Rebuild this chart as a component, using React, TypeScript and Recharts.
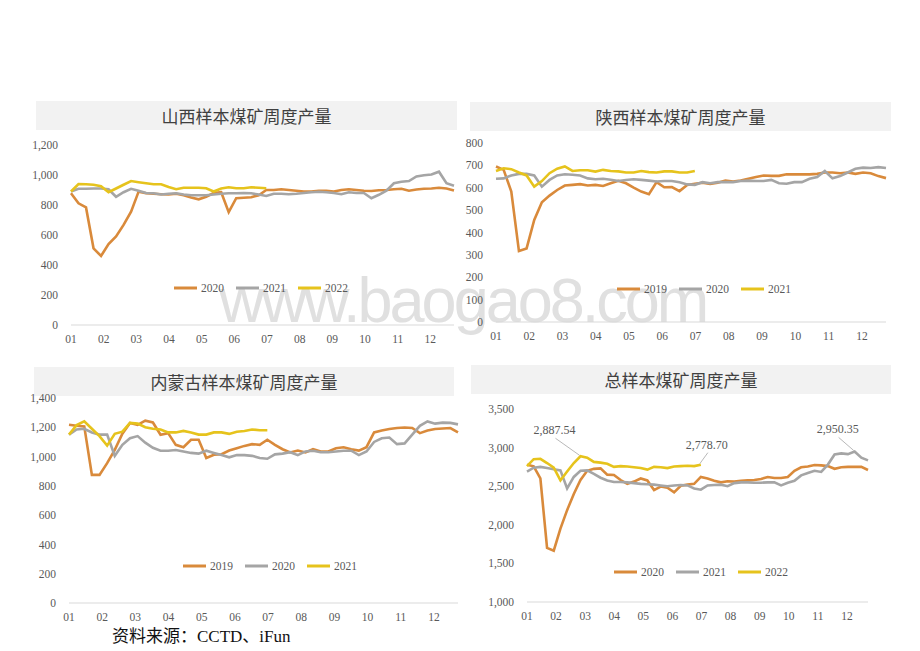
import { LineChart, Line, XAxis, YAxis, Legend } from 'recharts'

const SERIF = '"Liberation Serif", Tinos, "Times New Roman", serif'
const CJK = '"Noto Sans CJK SC", sans-serif'

const ORANGE = '#D98A3B'
const GRAY = '#A5A5A5'
const YELLOW = '#E6C31C'

// month tick labels, one every ~4.35 weeks
const MONTHS = ['01', '02', '03', '04', '05', '06', '07', '08', '09', '10', '11', '12']
const WEEKS_PER_MONTH = 4.35

// 山西
const SX_2020 = [878, 811, 784, 511, 460, 540, 590, 667, 756, 889, 878, 875, 872, 870, 875, 865, 850, 838, 855, 880, 885, 752, 845, 848, 852, 865, 900, 900, 905, 900, 895, 890, 890, 895, 895, 890, 900, 905, 900, 895, 893, 898, 900, 905, 908, 895, 903, 908, 910, 915, 910, 897]
const SX_2021 = [890, 908, 908, 910, 910, 905, 855, 885, 908, 895, 880, 878, 870, 875, 878, 870, 865, 865, 865, 870, 875, 878, 878, 880, 878, 870, 860, 875, 875, 872, 875, 880, 885, 888, 885, 880, 872, 885, 880, 880, 845, 868, 895, 945, 955, 960, 990, 998, 1003, 1022, 945, 928]
const SX_2022 = [890, 940, 938, 935, 925, 885, 910, 935, 960, 952, 945, 938, 938, 920, 905, 915, 915, 915, 912, 890, 910, 918, 912, 912, 918, 915, 912]

// 陕西
const SN_2019 = [695, 680, 583, 317, 329, 456, 535, 565, 590, 610, 613, 616, 610, 613, 608, 620, 631, 620, 601, 583, 571, 625, 602, 603, 585, 612, 618, 622, 617, 622, 632, 628, 632, 640, 648, 655, 653, 653, 660, 660, 660, 660, 662, 668, 668, 665, 668, 662, 668, 665, 652, 643]
const SN_2020 = [640, 642, 655, 662, 662, 655, 605, 635, 655, 660, 658, 655, 642, 638, 640, 636, 630, 635, 638, 635, 632, 628, 630, 630, 625, 615, 613, 625, 620, 625, 625, 625, 630, 632, 630, 630, 635, 620, 618, 625, 625, 640, 648, 675, 642, 652, 668, 685, 690, 688, 692, 688]
const SN_2021 = [675, 687, 683, 668, 655, 605, 630, 665, 685, 695, 675, 678, 678, 672, 680, 675, 673, 668, 668, 675, 670, 668, 673, 673, 668, 668, 675]

// 内蒙古
const NM_2019 = [1217, 1210, 1206, 875, 875, 955, 1046, 1156, 1229, 1217, 1245, 1233, 1149, 1160, 1080, 1064, 1115, 1115, 990, 1012, 1016, 1041, 1057, 1073, 1085, 1080, 1115, 1080, 1050, 1028, 1041, 1028, 1050, 1035, 1035, 1057, 1064, 1050, 1041, 1064, 1165, 1178, 1188, 1195, 1199, 1195, 1160, 1178, 1188, 1192, 1195, 1165]
const NM_2020 = [1150, 1185, 1190, 1165, 1150, 1150, 1005, 1080, 1125, 1140, 1095, 1060, 1040, 1040, 1045, 1035, 1025, 1020, 1040, 1025, 1010, 995, 1010, 1010, 1005, 990, 985, 1015, 1020, 1030, 1010, 1035, 1040, 1030, 1030, 1035, 1040, 1040, 1010, 1035, 1100, 1125, 1130, 1085, 1090, 1150, 1210, 1240, 1225, 1232, 1230, 1220]
const NM_2021 = [1150, 1215, 1240, 1190, 1140, 1075, 1155, 1170, 1230, 1225, 1200, 1190, 1185, 1165, 1165, 1175, 1165, 1150, 1150, 1165, 1165, 1155, 1170, 1175, 1185, 1180, 1180]

// 总样本
const TOT_2020 = [2779, 2757, 2600, 1700, 1665, 1950, 2190, 2400, 2580, 2700, 2725, 2731, 2650, 2645, 2580, 2530, 2560, 2600, 2575, 2450, 2495, 2480, 2420, 2505, 2520, 2530, 2620, 2600, 2570, 2550, 2565, 2560, 2570, 2576, 2580, 2593, 2619, 2606, 2606, 2620, 2700, 2745, 2755, 2775, 2770, 2760, 2725, 2745, 2750, 2750, 2750, 2710]
const TOT_2021 = [2690, 2740, 2750, 2735, 2720, 2705, 2470, 2620, 2700, 2705, 2660, 2610, 2575, 2555, 2555, 2550, 2540, 2530, 2525, 2520, 2510, 2500, 2510, 2515, 2510, 2470, 2455, 2510, 2515, 2520, 2500, 2540, 2550, 2550, 2545, 2545, 2550, 2550, 2510, 2545, 2570, 2640, 2670, 2700, 2685, 2780, 2910, 2925, 2915, 2950.35, 2870, 2835]
const TOT_2022 = [2760, 2850, 2855, 2800, 2740, 2575, 2690, 2800, 2887.54, 2870, 2815, 2805, 2790, 2750, 2760, 2755, 2745, 2735, 2715, 2750, 2745, 2735, 2755, 2760, 2765, 2760, 2778.7]

// points in the total chart that carry a value callout: [series, week, dx, dy]
const TOT_CALLOUTS: [number, number, number, number][] = [
  [2, 8, -26, -26],
  [2, 26, 6, -20],
  [1, 49, -17, -22],
]

interface Series {
  name: string
  color: string
  values: number[]
}

interface PanelProps {
  title: string
  series: Series[]
  domain: [number, number]
  yTicks: number[]
  x0: number
  x1: number
  yTop: number
  yBottom: number
  titleBox: [number, number, number, number]
  legendAt: [number, number]
  callouts?: [number, number, number, number][]
}

const fmt = (v: number) => v.toLocaleString('en-US')
const fmt2 = (v: number) => v.toLocaleString('en-US', { minimumFractionDigits: 2, maximumFractionDigits: 2 })

function LegendRow({ payload }: any) {
  return (
    <div style={{ display: 'flex', alignItems: 'center', whiteSpace: 'nowrap' }}>
      {(payload ?? []).map((p: any) => (
        <div key={p.value} style={{ display: 'flex', alignItems: 'center', marginRight: 12 }}>
          <svg width={23} height={4} style={{ display: 'block' }}>
            <line x1={0} y1={2} x2={23} y2={2} stroke={p.color} strokeWidth={3} />
          </svg>
          <span style={{ marginLeft: 4, fontSize: 11.5, lineHeight: '12px', color: '#595959', fontFamily: SERIF }}>
            {p.value}
          </span>
        </div>
      ))}
    </div>
  )
}

function Panel(props: PanelProps) {
  const { title, series, domain, yTicks, x0, x1, yTop, yBottom, titleBox, legendAt, callouts = [] } = props
  const L = x0 - 60
  const T = yTop - 10
  const W = x1 - L + 6
  const H = yBottom - T + 30

  const rows = SX_2020.map((_, i) => {
    const row: Record<string, number | undefined> = { w: i }
    series.forEach((s, k) => {
      row['s' + k] = s.values[i]
    })
    return row
  })

  const ticks = MONTHS.map((_, i) => i * WEEKS_PER_MONTH)

  const makeLabel = (k: number) => (p: any) => {
    const hit = callouts.find((c) => c[0] === k && c[1] === p.index)
    if (!hit || p.x == null || p.y == null) return <g />
    const [, , dx, dy] = hit
    return (
      <g>
        <line x1={p.x + dx + 1} y1={p.y + dy + 8} x2={p.x - 1} y2={p.y - 1} stroke="#a6a6a6" strokeWidth={0.8} />
        <text x={p.x + dx} y={p.y + dy + 4} textAnchor="middle" fontSize={12} fill="#595959" fontFamily={SERIF}>
          {fmt2(Number(p.value))}
        </text>
      </g>
    )
  }

  return (
    <>
      <div
        style={{
          position: 'absolute',
          left: titleBox[0],
          top: titleBox[1],
          width: titleBox[2],
          height: titleBox[3],
          background: '#f2f2f2',
          display: 'flex',
          alignItems: 'center',
          justifyContent: 'center',
          fontFamily: CJK,
          fontSize: 17,
          color: '#404040',
        }}
      >
        {title}
      </div>
      <div style={{ position: 'absolute', left: L, top: T }}>
        <LineChart width={W} height={H} data={rows} margin={{ top: 10, right: 6, left: 0, bottom: 0 }}>
          <XAxis
            type="number"
            dataKey="w"
            domain={[0, 51]}
            ticks={ticks}
            interval={0}
            height={30}
            tickFormatter={(v: number) => MONTHS[Math.round(v / WEEKS_PER_MONTH)]}
            tickLine={false}
            tickSize={0}
            tickMargin={10}
            axisLine={{ stroke: '#d9d9d9' }}
            tick={{ fontSize: 11.5, fill: '#595959', fontFamily: SERIF }}
          />
          <YAxis
            width={60}
            domain={domain}
            ticks={yTicks}
            interval={0}
            tickFormatter={fmt}
            axisLine={false}
            tickLine={false}
            tickSize={0}
            tickMargin={13}
            tick={{ fontSize: 11.5, fill: '#595959', fontFamily: SERIF }}
          />
          <Legend
            layout="horizontal"
            verticalAlign="middle"
            align="center"
            content={<LegendRow />}
            wrapperStyle={{ left: legendAt[0] - L, top: legendAt[1] - T - 6, width: 'auto' }}
          />
          {series.map((s, k) => (
            <Line
              key={s.name}
              type="linear"
              dataKey={'s' + k}
              name={s.name}
              stroke={s.color}
              strokeWidth={2.6}
              dot={false}
              isAnimationActive={false}
              label={callouts.length ? makeLabel(k) : undefined}
            />
          ))}
        </LineChart>
      </div>
    </>
  )
}

export default function App() {
  return (
    <div style={{ position: 'absolute', left: 0, top: 0, width: 920, height: 651, background: '#fff', overflow: 'hidden' }}>
      <div
        style={{
          position: 'absolute',
          left: 219,
          top: 260,
          fontFamily: '"Liberation Sans", Arial, sans-serif',
          fontSize: 63,
          letterSpacing: -3,
          color: '#e0e0e0',
          lineHeight: '80px',
          whiteSpace: 'nowrap',
        }}
      >
        www.baogao8.com
      </div>

      <Panel
        title="山西样本煤矿周度产量"
        series={[
          { name: '2020', color: ORANGE, values: SX_2020 },
          { name: '2021', color: GRAY, values: SX_2021 },
          { name: '2022', color: YELLOW, values: SX_2022 },
        ]}
        domain={[0, 1200]}
        yTicks={[0, 200, 400, 600, 800, 1000, 1200]}
        x0={71}
        x1={454}
        yTop={145}
        yBottom={325}
        titleBox={[36, 101, 421, 29]}
        legendAt={[174, 288]}
      />
      <Panel
        title="陕西样本煤矿周度产量"
        series={[
          { name: '2019', color: ORANGE, values: SN_2019 },
          { name: '2020', color: GRAY, values: SN_2020 },
          { name: '2021', color: YELLOW, values: SN_2021 },
        ]}
        domain={[0, 800]}
        yTicks={[0, 100, 200, 300, 400, 500, 600, 700, 800]}
        x0={496}
        x1={886}
        yTop={143}
        yBottom={322}
        titleBox={[470, 102, 421, 29]}
        legendAt={[617, 289]}
      />
      <Panel
        title="内蒙古样本煤矿周度产量"
        series={[
          { name: '2019', color: ORANGE, values: NM_2019 },
          { name: '2020', color: GRAY, values: NM_2020 },
          { name: '2021', color: YELLOW, values: NM_2021 },
        ]}
        domain={[0, 1400]}
        yTicks={[0, 200, 400, 600, 800, 1000, 1200, 1400]}
        x0={69}
        x1={458}
        yTop={398}
        yBottom={603}
        titleBox={[34, 367, 420, 29]}
        legendAt={[183, 566]}
      />
      <Panel
        title="总样本煤矿周度产量"
        series={[
          { name: '2020', color: ORANGE, values: TOT_2020 },
          { name: '2021', color: GRAY, values: TOT_2021 },
          { name: '2022', color: YELLOW, values: TOT_2022 },
        ]}
        domain={[1000, 3500]}
        yTicks={[1000, 1500, 2000, 2500, 3000, 3500]}
        x0={527}
        x1={868}
        yTop={409}
        yBottom={602}
        titleBox={[471, 365, 420, 29]}
        legendAt={[614, 572]}
        callouts={TOT_CALLOUTS}
      />

      <div style={{ position: 'absolute', left: 112, top: 624, fontSize: 17, lineHeight: '22px', color: '#111', whiteSpace: 'nowrap' }}>
        <span style={{ fontFamily: CJK }}>资料来源：</span>
        <span style={{ fontFamily: SERIF }}>CCTD</span>
        <span style={{ fontFamily: CJK }}>、</span>
        <span style={{ fontFamily: SERIF }}>iFun</span>
      </div>
    </div>
  )
}
